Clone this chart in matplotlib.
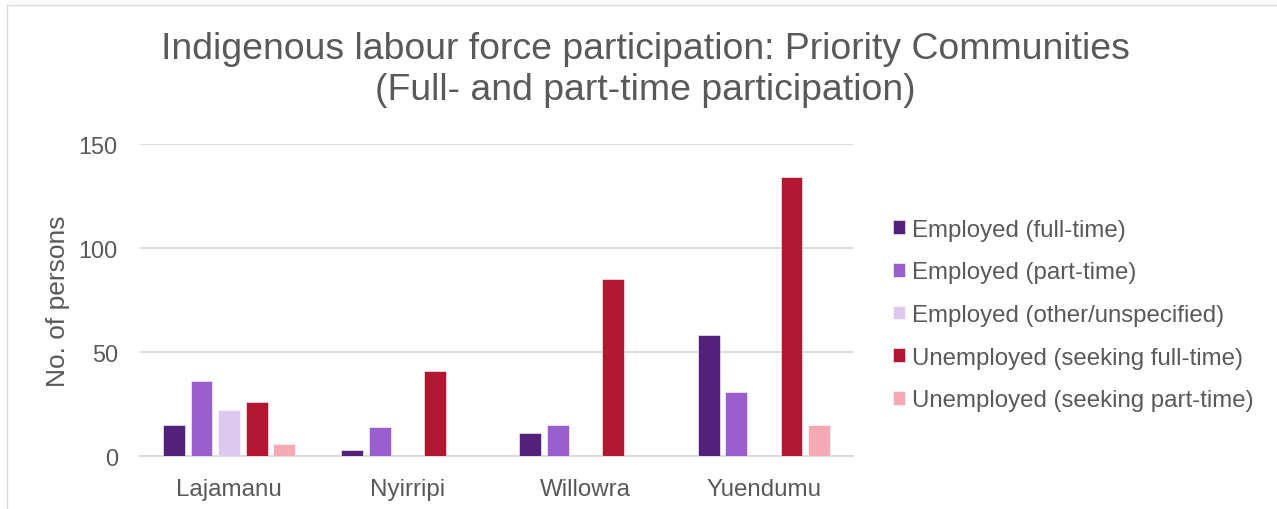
import matplotlib
matplotlib.use("Agg")
import matplotlib.pyplot as plt
import numpy as np
from matplotlib.lines import Line2D

plt.rcParams['font.family'] = ['Liberation Sans', 'DejaVu Sans']

communities = ["Lajamanu", "Nyirripi", "Willowra", "Yuendumu"]
series_names = [
    "Employed (full-time)",
    "Employed (part-time)",
    "Employed (other/unspecified)",
    "Unemployed (seeking full-time)",
    "Unemployed (seeking part-time)",
]
employed_full = [15, 3, 11, 58]
employed_part = [36, 14, 15, 31]
employed_other = [22, 0, 0, 0]
unemployed_full = [26, 41, 85, 134]
unemployed_part = [6, 0, 0, 15]
series_values = [employed_full, employed_part, employed_other,
                 unemployed_full, unemployed_part]
colors = ["#52227a", "#9b5ecf", "#ddc8ee", "#b21630", "#f4a9b5"]
yticks = [0, 50, 100, 150]

TEXT = "#595959"
W, H = 1277, 510
fig = plt.figure(figsize=(W / 100, H / 100), dpi=100)
ax = fig.add_axes([140 / W, 1 - 457 / H, (853 - 140) / W, (457 - 145) / H])

x = np.arange(len(communities))
step = 0.155
width = 0.123
for i, (vals, c, name) in enumerate(zip(series_values, colors, series_names)):
    ax.bar(x + (i - 2) * step, vals, width=width, color=c, label=name,
           zorder=3, edgecolor="white", linewidth=0.4)

ax.set_xlim(-0.5, 3.5)
ax.set_ylim(0, 150)
ax.set_yticks(yticks)
ax.set_xticks(x)
ax.set_xticklabels(communities)
ax.grid(axis="y", color="#d9d9d9", linewidth=1.3, zorder=0)
for s in ["top", "right", "left"]:
    ax.spines[s].set_visible(False)
ax.spines["bottom"].set_color("#d9d9d9")
ax.spines["bottom"].set_linewidth(1.3)
ax.tick_params(axis="both", length=0, colors=TEXT)
ax.tick_params(axis="y", pad=16, labelsize=16.8)
ax.tick_params(axis="x", pad=15.5, labelsize=17.4)
ax.set_ylabel("No. of persons", fontsize=19, color=TEXT, labelpad=6.5)

fig.text(645 / W, 1 - 70 / H,
         "Indigenous labour force participation: Priority Communities\n(Full- and part-time participation)",
         ha="center", va="center", fontsize=26.9, color=TEXT, linespacing=1.25)

ax.legend(loc="center left", bbox_to_anchor=(871 / W, 1 - 316 / H),
          bbox_transform=fig.transFigure, frameon=False,
          fontsize=17.3, labelcolor=TEXT, handlelength=0.5,
          handleheight=0.5, handletextpad=0.3, labelspacing=0.86)

# chart frame (top and left edges)
fig.add_artist(Line2D([7 / W, 1.0], [1 - 6 / H, 1 - 6 / H], transform=fig.transFigure,
                      color="#d9d9d9", linewidth=1.0))
fig.add_artist(Line2D([7 / W, 7 / W], [0.0, 1 - 6 / H], transform=fig.transFigure,
                      color="#d9d9d9", linewidth=1.0))

fig.savefig("out.png", dpi=100, facecolor="white")
